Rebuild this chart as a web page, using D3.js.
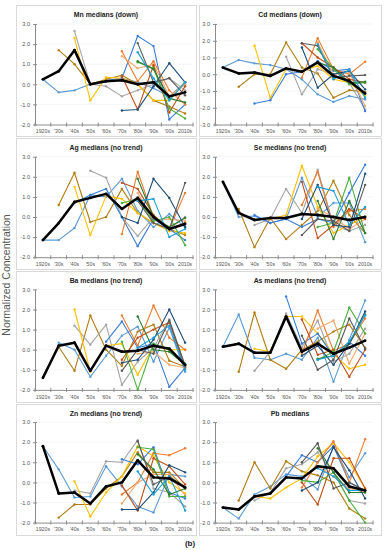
<!DOCTYPE html>
<html><head><meta charset="utf-8">
<script src="https://cdn.jsdelivr.net/npm/d3@7/dist/d3.min.js"></script>
<style>body{margin:0;background:#fff}svg{display:block}</style>
</head><body>
<svg id="c" width="385" height="550"></svg>
<script>
const n = null;
const decades = ["1920s","'30s","'40s","'50s","'60s","'70s","'80s","'90s","'00s","2010s"];
const titles = ["Mn medians (down)","Cd medians (down)","Ag medians (no trend)","Se medians (no trend)","Ba medians (no trend)","As medians (no trend)","Zn medians (no trend)","Pb medians"];
const yMins = [-2,-3,-2,-2,-2,-2,-2,-2];
const yMaxs = [3,3,3,3,3,3,3,3];
const yLabel = "Normalized Concentration";
const figLabel = "(b)";
// series order: median, lightblue, brown, gray, gold, blue, orange, lightorange, rust, green, darkgreen, darkblue, darkgray, teal
const mn = [
 [0.25,0.65,1.7,0.0,0.15,0.2,0.0,0.1,-0.6,-0.4],
 [0.25,-0.4,-0.3,0.0,0.2,0.3,0.1,-0.2,-0.6,0.1],
 [n,1.7,1.0,0.0,0.25,0.45,0.0,-0.8,-1.1,-1.45],
 [n,n,2.65,0.0,-0.1,-0.6,-0.3,0.0,0.3,-0.3],
 [n,n,2.3,-0.8,0.35,0.3,0.0,-0.8,-0.8,0.1],
 [n,n,n,n,n,0.3,2.4,1.9,-1.75,-1.0],
 [n,n,n,n,n,1.65,0.15,1.15,-0.3,-1.0],
 [n,n,n,n,n,1.4,0.8,1.0,-0.6,0.0],
 [n,n,n,n,n,0.4,-1.25,0.95,-1.4,-0.1],
 [n,n,n,n,n,n,1.1,0.8,-1.2,-1.7],
 [n,n,n,n,n,n,1.15,0.75,-0.7,-0.9],
 [n,n,n,n,n,-1.3,-1.25,-0.1,1.05,0.1],
 [n,n,n,n,n,n,2.05,0.1,0.3,-0.55],
 [n,n,n,n,n,n,1.6,0.3,-0.8,0.1]];
const cd = [
 [0.4,0.05,0.1,-0.1,0.35,0.15,0.7,-0.1,-0.4,-1.15],
 [0.4,0.85,0.65,0.55,0.3,-0.3,-1.2,-1.65,-1.3,-1.5],
 [n,-0.75,0.0,0.0,1.9,0.4,0.05,-1.4,-0.95,-1.05],
 [n,n,n,n,1.05,-1.2,0.3,0.0,-0.5,-2.1],
 [n,n,1.7,-1.4,0.3,0.2,0.5,-0.3,-0.5,-1.3],
 [n,n,-1.75,-1.55,0.0,0.15,0.8,0.2,0.3,-2.2],
 [n,n,n,n,n,-0.2,2.15,0.3,0.0,0.75],
 [n,n,n,n,n,n,1.9,0.0,0.1,-1.9],
 [n,n,n,n,n,1.85,1.0,0.4,-0.3,-0.5],
 [n,n,n,n,n,n,1.5,0.3,-0.6,-0.5],
 [n,n,n,n,n,n,0.7,0.4,-0.5,-0.45],
 [n,n,n,n,n,1.6,-0.8,0.0,0.2,-0.9],
 [n,n,n,n,n,1.85,1.7,-0.2,-0.1,-0.05],
 [n,n,n,n,n,n,1.8,-0.3,0.25,-1.4]];
const ag = [
 [-1.15,-0.3,0.75,0.95,1.15,0.4,0.95,0.0,-0.6,-0.35],
 [-1.15,-1.15,-0.55,1.1,1.0,1.9,0.3,-0.5,0.15,-0.5],
 [n,0.6,2.2,-0.25,0.0,1.4,0.2,-0.3,-0.6,-0.9],
 [n,n,n,2.3,1.95,0.0,-0.95,0.0,-0.6,0.0],
 [n,n,1.5,-0.9,1.05,0.9,0.2,-0.3,-0.7,-0.8],
 [n,n,0.7,1.1,1.4,0.0,-1.45,-0.1,-0.6,-1.15],
 [n,n,n,n,n,-0.85,2.25,0.0,-0.6,1.2],
 [n,n,n,n,n,n,1.2,-0.2,-0.1,-0.2],
 [n,n,n,n,n,1.7,1.4,0.1,-0.6,-0.3],
 [n,n,n,n,n,0.7,0.9,-0.2,0.0,-1.4],
 [n,n,n,n,n,n,1.9,0.0,-0.5,-0.05],
 [n,n,n,n,n,0.0,-0.3,1.9,0.95,-0.5],
 [n,n,n,n,n,n,0.8,-0.3,-0.6,1.7],
 [n,n,n,n,n,n,0.8,0.9,-1.0,-0.6]];
const se = [
 [1.75,0.2,-0.15,-0.05,-0.05,0.15,0.1,0.0,-0.15,0.0],
 [1.75,0.0,0.05,-0.3,-0.1,1.95,0.0,0.7,0.7,-1.25],
 [n,0.4,-1.5,-0.05,-1.1,-0.4,0.3,1.8,0.1,-0.8],
 [n,n,-0.4,-0.1,1.4,0.2,2.35,-0.4,-0.7,-0.4],
 [n,n,n,-0.1,0.1,2.55,0.5,-0.8,-0.4,0.0],
 [n,n,0.1,-0.3,-0.1,-0.5,-0.1,-0.3,1.2,2.6],
 [n,n,n,n,n,0.6,2.25,-0.5,0.3,0.4],
 [n,n,n,n,n,n,0.4,0.0,-0.6,-0.1],
 [n,n,n,n,n,1.75,-1.05,-0.4,0.4,-0.1],
 [n,n,n,n,n,n,-0.5,-0.3,1.95,-0.8],
 [n,n,n,n,n,n,0.8,-1.1,0.8,-0.8],
 [n,n,n,n,n,-0.1,1.6,-0.4,-0.5,2.15],
 [n,n,n,n,n,-0.9,-0.1,-0.2,-0.7,1.6],
 [n,n,n,n,n,n,1.5,1.3,-0.4,0.5]];
const ba = [
 [-1.4,0.2,0.35,-1.05,0.2,-0.1,-0.05,0.2,0.05,-0.75],
 [n,0.35,0.0,-1.35,-0.3,0.7,1.15,-0.6,1.1,-1.1],
 [n,0.15,-1.05,1.7,0.0,-0.8,0.9,1.25,-0.55,-0.85],
 [n,n,1.2,0.25,1.25,-1.75,-0.6,0.1,1.5,-0.8],
 [n,n,2.0,-1.1,0.2,0.3,-1.25,0.2,0.0,0.0],
 [n,n,n,n,0.4,1.4,0.1,0.3,-1.85,-0.9],
 [n,n,n,n,n,1.7,0.2,2.2,0.6,0.0],
 [n,n,n,n,n,n,-0.2,-0.1,-0.75,-0.9],
 [n,n,n,n,n,-0.5,0.6,1.0,1.35,-0.9],
 [n,n,n,n,n,0.4,-2.0,0.3,0.0,-0.7],
 [n,n,n,n,n,n,1.65,0.0,-0.1,-0.75],
 [n,n,n,n,n,-0.65,-0.5,0.5,2.0,0.35],
 [n,n,n,n,n,-1.05,0.0,-0.2,1.45,-0.8],
 [n,n,n,n,n,n,0.1,0.6,1.2,-1.0]];
const as = [
 [0.15,0.3,-0.15,-0.15,1.65,-0.1,0.3,-0.2,0.1,0.45],
 [0.15,1.75,-0.4,-0.5,-0.2,-0.5,0.6,-1.6,0.5,2.45],
 [n,-1.1,1.85,-0.5,-0.95,0.0,0.4,0.9,1.25,0.1],
 [n,n,-1.05,-0.1,1.8,0.1,1.45,-0.6,-0.2,1.05],
 [n,n,0.05,-0.1,1.65,1.65,0.8,-0.2,-0.95,-0.75],
 [n,n,n,n,2.65,0.3,0.8,-0.3,0.4,-0.3],
 [n,n,n,n,n,-0.2,1.95,-0.05,0.3,1.55],
 [n,n,n,n,n,n,1.05,1.45,-0.7,0.8],
 [n,n,n,n,n,1.5,-0.25,0.0,-1.35,0.0],
 [n,n,n,n,n,n,-0.5,-0.1,2.1,0.8],
 [n,n,n,n,n,n,-0.45,-0.3,0.3,1.75],
 [n,n,n,n,n,-0.3,0.2,-0.75,0.3,1.9],
 [n,n,n,n,n,0.7,-1.0,-0.5,1.55,0.05],
 [n,n,n,n,n,n,-0.5,-0.3,0.4,1.7]];
const zn = [
 [1.8,-0.55,-0.5,-1.05,-0.2,0.0,1.1,0.25,0.2,-0.25],
 [1.8,0.65,-0.75,-0.7,0.8,-0.2,-1.2,-1.5,0.4,0.3],
 [n,-1.75,-1.1,-1.1,-0.3,0.3,1.5,0.5,0.5,-0.3],
 [n,n,-0.4,-0.55,1.05,1.0,2.1,-0.3,-0.5,-1.2],
 [n,n,0.05,-1.7,-0.5,0.3,1.8,1.3,0.0,-0.55],
 [n,n,n,n,n,1.15,0.9,1.75,-0.5,-0.8],
 [n,n,n,n,n,-0.6,0.0,1.45,1.35,1.7],
 [n,n,n,n,n,-1.05,0.0,0.4,0.4,-0.65],
 [n,n,n,n,n,-0.15,-1.4,1.2,0.8,-0.1],
 [n,n,n,n,n,n,1.75,1.65,-0.7,-0.7],
 [n,n,n,n,n,n,1.4,0.65,-0.6,-0.3],
 [n,n,n,n,n,-1.35,-1.35,-0.5,0.85,0.5],
 [n,n,n,n,n,n,2.05,-0.1,0.3,-0.25],
 [n,n,n,n,n,n,0.55,-0.6,0.3,-1.4]];
const pb = [
 [-1.25,-1.35,-0.7,-0.55,0.25,0.2,0.8,0.7,-0.2,-0.4],
 [-1.25,-1.8,-0.6,-0.2,0.4,0.3,-0.35,1.8,0.25,1.45],
 [n,-0.9,1.0,-0.3,1.05,0.55,0.35,0.0,-1.3,-1.8],
 [n,n,-0.9,-0.5,0.7,0.9,1.5,0.5,-0.9,-1.05],
 [n,n,-0.7,-0.8,-0.25,0.2,1.3,1.95,1.0,-0.3],
 [n,n,n,n,0.3,1.35,1.0,1.8,0.0,-0.4],
 [n,n,n,n,n,-0.25,1.0,2.05,0.0,2.15],
 [n,n,n,n,n,n,0.8,0.3,-0.3,-0.5],
 [n,n,n,n,n,0.0,-1.1,1.2,1.2,-0.3],
 [n,n,n,n,n,0.1,0.0,0.5,-0.9,-2.0],
 [n,n,n,n,n,n,1.7,0.5,-0.5,-0.5],
 [n,n,n,n,n,-0.4,0.0,1.75,0.6,-0.8],
 [n,n,n,n,n,1.0,1.95,-0.3,0.0,-0.4],
 [n,n,n,n,n,n,0.7,0.3,-0.4,-0.4]];
const panels = [mn, cd, ag, se, ba, as, zn, pb];

// styles
const colors = ["#000000","#5B9BD5","#B07D10","#A5A5A5","#FFC000","#3A7DD8","#ED7D31","#F5A86E","#C0501A","#4CAF3E","#2E7D32","#1F4E79","#5A5A5A","#1AA0D8"];
const font = "'Liberation Sans', Arial, sans-serif";
const svg = d3.select("#c");
const fmt = v => (v < 0 ? "-" : "") + Math.abs(v).toFixed(1);

panels.forEach((data, p) => {
  const col = p % 2, row = Math.floor(p / 2);
  const px = col === 0 ? 16 : 199, pw = col === 0 ? 180 : 182;
  const py = 5 + row * 133, ph = 131;
  const axL = col === 0 ? 35 : 215, axR = axL + 158;
  const yTop = 24 + row * 132.7, yBot = yTop + 100.5;
  const g = svg.append("g");
  g.append("rect").attr("x", px + .5).attr("y", py + .5).attr("width", pw).attr("height", ph)
    .attr("fill", "none").attr("stroke", "#d9d9d9").attr("stroke-width", 1);
  g.append("text").attr("x", px + pw / 2).attr("y", py + 12).attr("text-anchor", "middle")
    .attr("font-family", font).attr("font-size", 6.9).attr("font-weight", "bold").attr("fill", "#222").text(titles[p]);
  const x = d3.scaleBand().domain(decades).range([axL, axR]);
  const y = d3.scaleLinear().domain([yMins[p], yMaxs[p]]).range([yBot, yTop]);
  const ticks = d3.range(yMins[p], yMaxs[p] + 0.001, 1);
  g.selectAll(".gl").data(ticks.slice(1)).join("line")
    .attr("x1", axL).attr("x2", axR).attr("y1", d => y(d)).attr("y2", d => y(d))
    .attr("stroke", "#efefef").attr("stroke-width", 0.6);
  const ya = g.append("g").attr("transform", `translate(${axL},0)`)
    .call(d3.axisLeft(y).tickValues(ticks).tickFormat(fmt).tickSizeInner(2).tickSizeOuter(0).tickPadding(3));
  ya.selectAll("line").attr("stroke", "#8c8c8c").attr("x2", 2).attr("x1", -2);
  ya.select(".domain").attr("stroke", "#8c8c8c");
  ya.selectAll("text").attr("font-family", font).attr("font-size", 5.6).attr("fill", "#555");
  const xa = g.append("g").attr("transform", `translate(0,${yBot})`)
    .call(d3.axisBottom(x).tickSize(0).tickPadding(5));
  xa.select(".domain").attr("stroke", "#8c8c8c");
  xa.selectAll("text").attr("font-family", font).attr("font-size", 5.2).attr("fill", "#555");
  const bounds = decades.map(d => x(d)).concat([axR]);
  xa.selectAll(".bt").data(bounds).join("line").attr("x1", d => d).attr("x2", d => d)
    .attr("y1", -2).attr("y2", 2).attr("stroke", "#8c8c8c").attr("stroke-width", 1);
  const line = d3.line().defined(d => d.v !== null).x(d => x(d.k) + x.bandwidth() / 2).y(d => y(d.v));
  const order = d3.range(1, data.length).concat([0]);
  order.forEach(si => {
    const pts = data[si].map((v, i) => ({k: decades[i], v}));
    const isMed = si === 0;
    g.append("path").attr("d", line(pts)).attr("fill", "none").attr("stroke", colors[si])
      .attr("stroke-width", isMed ? 2.5 : 1.1).attr("stroke-linejoin", "round");
    g.selectAll(null).data(pts.filter(d => d.v !== null)).join("circle")
      .attr("cx", d => x(d.k) + x.bandwidth() / 2).attr("cy", d => y(d.v))
      .attr("r", isMed ? 1.4 : 1.2).attr("fill", colors[si]);
  });
});
svg.append("text").attr("transform", "translate(10,275) rotate(-90)").attr("text-anchor", "middle")
  .attr("font-family", font).attr("font-size", 10.5).attr("fill", "#555").text(yLabel);
svg.append("text").attr("x", 190).attr("y", 546).attr("text-anchor", "middle")
  .attr("font-family", font).attr("font-size", 8).attr("font-weight", "bold").attr("fill", "#222").text(figLabel);
</script>
</body></html>
